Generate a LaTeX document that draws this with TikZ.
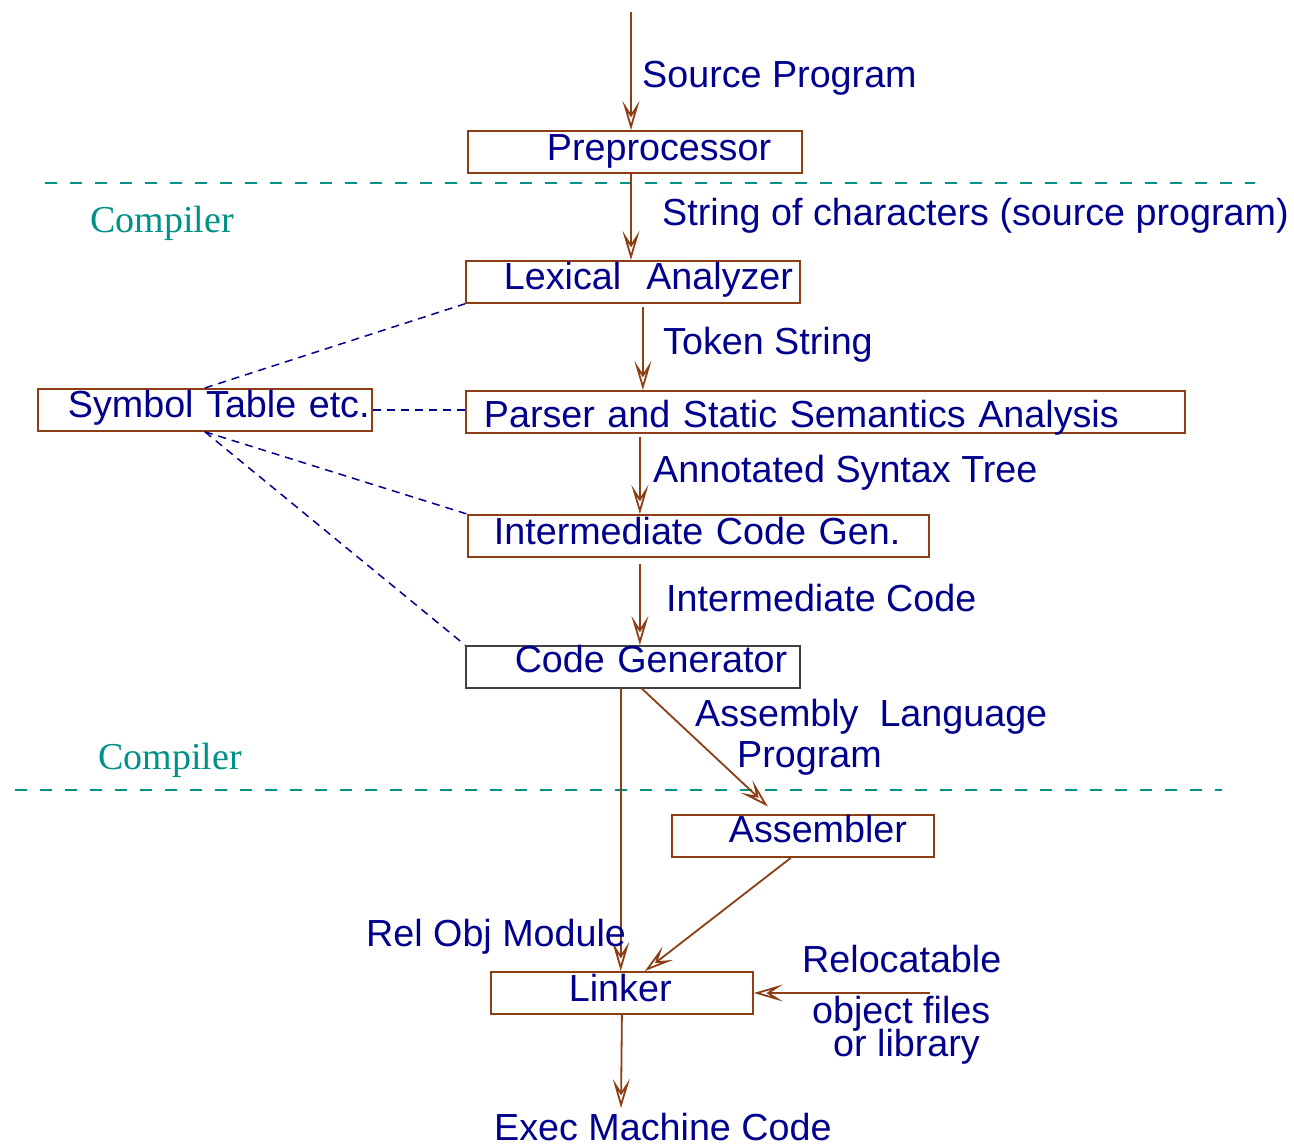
\documentclass[tikz,border=0pt]{standalone}
\usepackage{fontspec}
\setmainfont{Liberation Sans}
\newfontfamily\serifface{Liberation Serif}
\usetikzlibrary{arrows.meta}
\definecolor{brn}{RGB}{140,62,20}
\definecolor{navy}{RGB}{0,0,140}
\definecolor{tealc}{RGB}{0,145,135}
\newcommand\lead[1]{\hspace*{#1pt}}
\begin{document}
\begin{tikzpicture}[x=1pt,y=-1pt,
  font=\fontsize{37.7}{40}\selectfont,
  box/.style n args={3}{draw=brn, line width=1.8pt, anchor=north west,
    inner xsep=0pt, inner ysep=0pt, align=left, text=navy,
    text width=#1pt, text height=#2pt, text depth=#3pt},
  lbl/.style={anchor=base west, inner sep=0pt, text=navy},
  phase/.style={anchor=base west, inner sep=0pt, text=tealc, font=\fontsize{38}{40}\serifface},
  flow/.style={draw=brn, line width=1.8pt,
    -{Stealth[open, length=29pt, width=17pt, inset=13pt, line width=1.8pt]}},
  link/.style={draw=navy, line width=1.5pt, dash pattern=on 8pt off 6pt},
  divider/.style={draw=tealc, line width=1.5pt, dash pattern=on 12pt off 13pt}]
\useasboundingbox (0,0) rectangle (1294,1146);

% phase dividers
\draw[divider] (45,183) -- (1255,183);
\draw[divider] (15,790) -- (1222,790);
\node[phase] (ph1) at (90,232) {Compiler};
\node[phase] (ph2) at (98,769) {Compiler};

% boxes
\node[box={334}{30}{12}] (pre) at (467,130) {\lead{79}Preprocessor};
\node[box={334}{29}{13}] (lex) at (465,260) {\lead{38}Lexical\ \ Analyzer};
\node[box={334}{29}{13}] (sym) at (37,388) {\lead{30}Symbol Table etc.};
\node[box={719}{37}{5}] (par) at (465,390) {\lead{18}Parser and Static Semantics Analysis};
\node[box={461}{30}{12}] (icg) at (467,514) {\lead{26}Intermediate Code Gen.};
\node[box={334}{27}{15}, draw=black!75, line width=1.5pt] (cg) at (465,645) {\lead{49}Code Generator};
\node[box={262}{28}{14}] (asm) at (671,814) {\lead{57}Assembler};
\node[box={262}{30}{12}] (lnk) at (490,971) {\lead{78}Linker};

% free ends
\coordinate (src) at (631,12);
\coordinate (lib) at (930,993);
\coordinate (exe) at (621,1108);

% main flow
\draw[flow] (src) -- (src |- pre.north);
\draw[flow] (pre.south -| src) -- (lex.north -| src);
\draw[flow, shorten <=3pt] ([xshift=10pt]lex.south) -- ([xshift=10pt]lex.south |- par.north);
\draw[flow, shorten <=3pt] ([xshift=7pt]lex.south |- par.south) -- ([xshift=7pt]lex.south |- icg.north);
\draw[flow, shorten <=6pt] ([xshift=7pt]lex.south |- icg.south) -- ([xshift=7pt]lex.south |- cg.north);
\draw[flow] ([xshift=-12pt]cg.south) -- ([xshift=-12pt]cg.south |- lnk.north);
\draw[flow, shorten >=11pt] ([xshift=9pt]cg.south) -- ([xshift=-27pt]asm.north);
\draw[flow] ([xshift=-12pt]asm.south) -- ([xshift=23pt]lnk.north);
\draw[flow] (lib) -- (lib -| lnk.east);
\draw[flow] (lnk.south) -- (exe);

% symbol table links
\draw[link] (sym.east) -- (sym.east -| par.west);
\draw[link] (sym.north) -- (lex.south west);
\draw[link] (sym.south) -- (icg.north west);
\draw[link] (sym.south) -- (cg.north west);

% labels
\node[lbl] (l1) at (642,87) {Source Program};
\node[lbl] (l2) at (662,225) {String of characters (source program)};
\node[lbl] (l3) at (663,354) {Token String};
\node[lbl] (l4) at (653,482) {Annotated Syntax Tree};
\node[lbl] (l5) at (666,611) {Intermediate Code};
\node[lbl] (l6) at (695,726) {Assembly\ \ Language};
\node[lbl] (l7) at (737,767) {Program};
\node[lbl] (l8) at (366,946) {Rel Obj Module};
\node[lbl] (l9) at (802,972) {Relocatable};
\node[lbl] (l10) at (812,1023) {object files};
\node[lbl] (l11) at (833,1056) {or library};
\node[lbl] (l12) at (494,1140) {Exec Machine Code};
\end{tikzpicture}
\end{document}
